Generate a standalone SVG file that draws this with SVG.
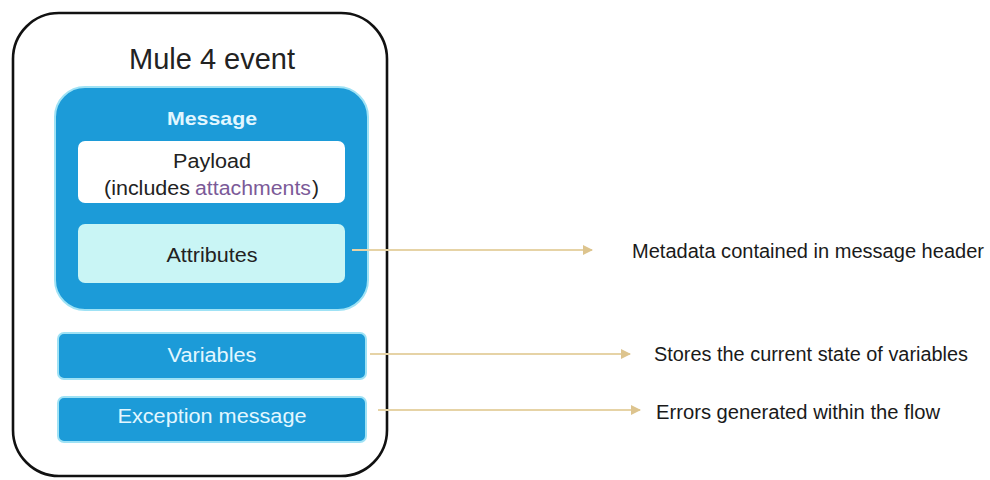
<svg xmlns="http://www.w3.org/2000/svg" width="990" height="480" viewBox="0 0 990 480">
<defs>
<style>
.t{font-family:"Liberation Sans",Arial,sans-serif;}
.blue{fill:#1c9bd8;stroke:#9fe2f5;stroke-width:2;}
.wt{fill:#e2f7ff;text-anchor:middle;}
.dk{fill:#222;text-anchor:middle;}
.conn{stroke:#e6d3a6;stroke-width:2;fill:none;marker-end:url(#ah);}
.lbl{fill:#1a1a1a;font-size:20px;}
</style>
<marker id="ah" viewBox="0 0 10 10" refX="9" refY="5" markerWidth="5" markerHeight="5" orient="auto" markerUnits="strokeWidth">
<path d="M0,0 L10,5 L0,10 z" fill="#ddc48e"/>
</marker>
</defs>
<rect width="990" height="480" fill="#ffffff"/>
<g id="event">
<rect x="13" y="13" width="374" height="463" rx="46" ry="46" fill="#ffffff" stroke="#111" stroke-width="2.6"/>
<text class="t dk" x="212" y="69" font-size="29" textLength="166" lengthAdjust="spacingAndGlyphs">Mule 4 event</text>
</g>
<g id="message">
<rect class="blue" x="55" y="87" width="313" height="223" rx="30" ry="30"/>
<text class="t wt" x="212" y="125" font-weight="bold" font-size="19" textLength="90" lengthAdjust="spacingAndGlyphs">Message</text>
</g>
<g id="payload">
<rect x="78" y="141" width="267" height="62" rx="7" fill="#ffffff"/>
<text class="t dk" x="212" y="168" font-size="20" textLength="78" lengthAdjust="spacingAndGlyphs">Payload</text>
<text class="t" x="104" y="195" font-size="20" fill="#222" textLength="86" lengthAdjust="spacingAndGlyphs">(includes</text>
<text class="t" x="195" y="195" font-size="20" fill="#7b5a98" textLength="116" lengthAdjust="spacingAndGlyphs">attachments</text>
<text class="t" x="312" y="195" font-size="20" fill="#222" textLength="7" lengthAdjust="spacingAndGlyphs">)</text>
</g>
<g id="attributes">
<rect x="78" y="224" width="267" height="59" rx="7" fill="#c9f5f5"/>
<text class="t dk" x="212" y="262" font-size="20" textLength="91" lengthAdjust="spacingAndGlyphs">Attributes</text>
</g>
<g id="variables">
<rect class="blue" x="58" y="333" width="308" height="46" rx="6"/>
<text class="t wt" x="212" y="362" font-size="20" textLength="89" lengthAdjust="spacingAndGlyphs">Variables</text>
</g>
<g id="exception">
<rect class="blue" x="58" y="397" width="308" height="45" rx="6"/>
<text class="t wt" x="212" y="423" font-size="20" textLength="189" lengthAdjust="spacingAndGlyphs">Exception message</text>
</g>
<g id="connectors">
<line class="conn" x1="352" y1="250" x2="592" y2="250"/>
<line class="conn" x1="370" y1="354" x2="630" y2="354"/>
<line class="conn" x1="378" y1="410" x2="640" y2="410"/>
</g>
<g id="labels">
<text class="t lbl" x="632" y="258" textLength="352" lengthAdjust="spacingAndGlyphs">Metadata contained in message header</text>
<text class="t lbl" x="654" y="361" textLength="314" lengthAdjust="spacingAndGlyphs">Stores the current state of variables</text>
<text class="t lbl" x="656" y="419" textLength="284" lengthAdjust="spacingAndGlyphs">Errors generated within the flow</text>
</g>
</svg>
